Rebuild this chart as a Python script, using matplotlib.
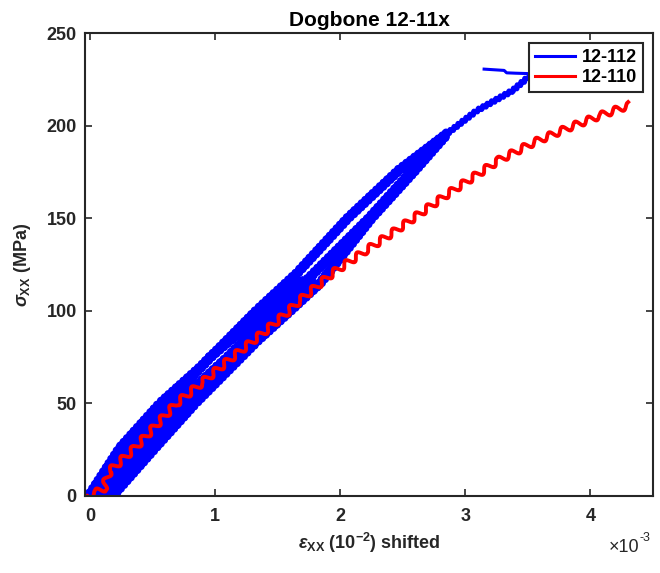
import matplotlib
matplotlib.use('Agg')
import matplotlib.pyplot as plt
from matplotlib.lines import Line2D

plt.rcParams['font.family'] = ['Liberation Sans', 'DejaVu Sans']
plt.rcParams['font.weight'] = 'bold'
plt.rcParams['mathtext.fontset'] = 'custom'
plt.rcParams['mathtext.rm'] = 'Liberation Sans:bold'
plt.rcParams['mathtext.it'] = 'Liberation Sans:italic'
plt.rcParams['mathtext.bf'] = 'Liberation Sans:bold'

# strain in units of 1e-3, stress in MPa
# 12-112: first loading branch
b_load1_strain = [0.18, 0.52, 0.84, 1.34, 1.60, 1.84, 2.25, 2.60, 2.86]
b_load1_stress = [0, 26, 50, 84, 100, 115, 150, 176, 196]
# 12-112: unloading branch
b_unload_strain = [2.86, 2.47, 2.06, 1.65, 1.33, 0.89, 0.56, 0.24, -0.01]
b_unload_stress = [196, 176, 150, 120, 100, 70, 50, 26, 0]
# 12-112: reloading branch
b_load2_strain = [0.08, 0.38, 0.70, 1.10, 1.47, 1.74, 2.23, 2.58, 2.86]
b_load2_stress = [0, 26, 50, 75, 100, 117, 150, 176, 196]
# 12-112: short cycles at low stress
b_cyc1_strain = [0.03, 0.30, 0.62, 0.96, 1.40, 1.68]
b_cyc1_stress = [0, 26, 50, 75, 100, 118]
b_cyc2_strain = [0.13, 0.45, 0.77, 1.21, 1.54, 1.78]
b_cyc2_stress = [0, 26, 50, 80, 100, 118]
# 12-112: last part up to failure
b_top_strain = [2.86, 3.09, 3.38, 3.50, 3.54]
b_top_stress = [196, 208, 219, 226, 228]
b_end_strain = [3.54, 3.40, 3.33, 3.31, 3.15]
b_end_stress = [228, 228.3, 228.5, 229.8, 230.5]

# 12-110
r_strain = [-0.02, 0.05, 0.11, 0.13, 0.15, 0.36, 0.69, 0.90, 1.14, 1.41, 1.57,
            1.68, 1.94, 2.21, 2.45, 2.87, 3.27, 3.55, 3.83, 4.08, 4.31]
r_stress = [0, 2, 4, 8, 13, 26, 50, 61.5, 75, 89.6, 98.8,
            105.8, 120.4, 132.8, 143.6, 163.6, 181.4, 191, 199, 205.5, 211]

xticks = [0, 1, 2, 3, 4]
yticks = [0, 50, 100, 150, 200, 250]
labels = ['12-112', '12-110']

fig = plt.figure(figsize=(6.6, 5.73), dpi=100)
ax = fig.add_axes([0.1288, 0.1344, 0.8606, 0.808])

blue = '#0000ff'
red = '#ff0000'
for xs, ys in [(b_load1_strain, b_load1_stress),
               (b_unload_strain, b_unload_stress),
               (b_load2_strain, b_load2_stress),
               (b_cyc1_strain, b_cyc1_stress),
               (b_cyc2_strain, b_cyc2_stress)]:
    ln, = ax.plot(xs, ys, color=blue, lw=5.4, solid_joinstyle='round',
                  solid_capstyle='butt')
    ln.set_sketch_params(1.8, 5, 1)
ln, = ax.plot(b_top_strain, b_top_stress, color=blue, lw=3.6)
ln.set_sketch_params(1.5, 5, 1)
ax.plot(b_end_strain, b_end_stress, color=blue, lw=2.2)

ln, = ax.plot(r_strain, r_stress, color=red, lw=2.8)
ln.set_sketch_params(3.4, 14, 1)

ax.set_xlim(-0.04, 4.5)
ax.set_ylim(0, 250)
ax.set_xticks(xticks)
ax.set_yticks(yticks)
ax.tick_params(direction='in', length=5, width=1.2, top=True, right=True,
               labelsize=13, colors='#262626')
ax.tick_params(axis='x', pad=9)
ax.tick_params(axis='y', pad=6)
for s in ax.spines.values():
    s.set_linewidth(1.5)
    s.set_color('#262626')

ax.set_title('Dogbone 12-11x', fontsize=15, fontweight='bold', pad=5)
ax.set_xlabel(r'$\epsilon_{\mathbf{XX}}$ (10$^{\mathbf{-2}}$) shifted',
              fontsize=13, fontweight='bold', color='#262626')
ax.xaxis.set_label_coords(0.5, -0.075)
ax.set_ylabel(r'$\sigma_{\mathbf{XX}}$ (MPa)', fontsize=13, fontweight='bold',
              color='#262626')
ax.yaxis.set_label_coords(-0.092, 0.5)
ax.text(0.976, -0.112, '×10', transform=ax.transAxes, ha='right', va='center',
        fontsize=13, fontweight='normal', color='#262626')
ax.text(0.977, -0.09, '-3', transform=ax.transAxes, ha='left', va='center',
        fontsize=9, fontweight='normal', color='#262626')

handles = [Line2D([], [], color=blue, lw=2.2), Line2D([], [], color=red, lw=2.2)]
leg = ax.legend(handles, labels, loc='upper right', fontsize=13, fancybox=False,
                framealpha=1, edgecolor='#262626', borderaxespad=0.55,
                handlelength=2.2, handletextpad=0.35, labelspacing=0.15,
                borderpad=0.35)
leg.get_frame().set_linewidth(1.5)

plt.savefig('out.png', dpi=100)
